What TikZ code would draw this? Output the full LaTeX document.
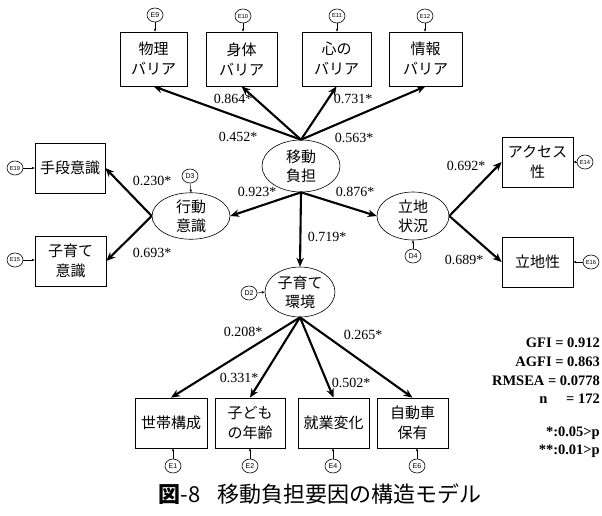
\documentclass[tikz,border=0pt]{standalone}
\usepackage{fontspec}
\setmainfont{Liberation Serif}
\newfontfamily\jp{Noto Sans CJK JP}
\newfontfamily\esf{Liberation Sans}
\usetikzlibrary{arrows.meta,shapes.geometric}
\begin{document}
\begin{tikzpicture}[x=1pt,y=-1pt,
  box/.style={draw,line width=0.7pt,inner sep=0pt,align=center,minimum height=50pt,font=\jp\fontsize{15}{20}\selectfont},
  lat/.style={draw,ellipse,line width=0.6pt,inner sep=0pt,align=center,font=\jp\fontsize{15}{19}\selectfont},
  err/.style={draw,ellipse,line width=0.6pt,inner sep=0pt,minimum width=16pt,minimum height=14pt,font=\esf\fontsize{7}{7}\selectfont},
  errs/.style={err,font=\esf\fontsize{5.8}{6}\selectfont},
  sm/.style={-{Stealth[length=3pt,width=2.5pt]},line width=0.5pt},
  pth/.style={-{Stealth[length=9pt,width=7.5pt]},line width=2.1pt},
  lab/.style={inner sep=0pt,font=\fontsize{14}{15}\selectfont},
  stat/.style={inner sep=0pt,anchor=east,font=\bfseries\fontsize{14.5}{15}\selectfont}]
\useasboundingbox (0,0) rectangle (602,515);
\clip (0,0) rectangle (602,515);
% top boxes
\node[box,minimum width=67pt,minimum height=54pt] (b1) at (153.5,59) {物理\\バリア};
\node[box,minimum width=71pt,minimum height=54pt] (b2) at (241.5,59) {身体\\バリア};
\node[box,minimum width=69pt,minimum height=54pt] (b3) at (336.5,59) {心の\\バリア};
\node[box,minimum width=73pt,minimum height=54pt] (b4) at (425.5,59) {情報\\バリア};
% left boxes
\node[box,minimum width=70pt] (l1) at (70,168) {手段意識};
\node[box,minimum width=71pt] (l2) at (70.5,261) {子育て\\意識};
% right boxes
\node[box,minimum width=71pt] (r1) at (537.5,162) {アクセス\\性};
\node[box,minimum width=71pt] (r2) at (537.5,262) {立地性};
% bottom boxes
\node[box,minimum width=72pt] (d1) at (171,423) {世帯構成};
\node[box,minimum width=70pt] (d2) at (250,423) {子ども\\の年齢};
\node[box,minimum width=71pt] (d3) at (333.5,423) {就業変化};
\node[box,minimum width=71pt] (d4) at (412.5,423) {自動車\\保有};
% latent ellipses
\node[lat,minimum width=78pt,minimum height=52pt] (idou) at (301,166) {移動\\負担};
\node[lat,minimum width=78pt,minimum height=44pt] (koudou) at (191,216) {行動\\意識};
\node[lat,minimum width=72pt,minimum height=48pt] (ritchi) at (413,216) {立地\\状況};
\node[lat,minimum width=70pt,minimum height=50pt] (kankyo) at (300,292) {子育て\\環境};
% error terms
\node[err] (E9) at (155,15) {E9};
\node[errs] (E10) at (243,16) {E10};
\node[errs] (E11) at (337,16) {E11};
\node[errs] (E12) at (425,16) {E12};
\node[errs] (E19) at (15,168) {E19};
\node[errs] (E15) at (15,260) {E15};
\node[errs] (E14) at (585,162) {E14};
\node[errs] (E16) at (591,262) {E16};
\node[err] (D3) at (190,176) {D3};
\node[err] (D4) at (413,256) {D4};
\node[err] (D2) at (249,293) {D2};
\node[err] (E1) at (173,466) {E1};
\node[err] (E2) at (250,466) {E2};
\node[err] (E4) at (333,466) {E4};
\node[err] (E6) at (417,466) {E6};
% small arrows
\foreach \e/\b in {E9/b1,E10/b2,E11/b3,E12/b4}
  \draw[sm] (\e.south) -- (\e.south |- \b.north);
\foreach \e/\b in {E1/d1,E2/d2,E4/d3,E6/d4}
  \draw[sm] (\e.north) -- (\e.north |- \b.south);
\draw[sm] (E19.east) -- (E19.east -| l1.west);
\draw[sm] (E15.east) -- (E15.east -| l2.west);
\draw[sm] (E14.west) -- (E14.west -| r1.east);
\draw[sm] (E16.west) -- (E16.west -| r2.east);
\draw[sm] (D3.south) -- (koudou.north);
\draw[sm] (D4.north) -- (ritchi.south);
\draw[sm] (D2.east) -- (kankyo.west);
% main paths
\foreach \b in {b1,b2,b3,b4}
  \draw[pth] (idou.north) -- (\b.south);
\draw[pth] (idou.south) -- (koudou.east);
\draw[pth] (idou.south) -- (ritchi.west);
\draw[pth] (idou.south) -- (kankyo.north);
\draw[pth] (koudou.west) -- (l1.east);
\draw[pth] (koudou.west) -- (l2.east);
\draw[pth] (ritchi.east) -- (r1.west);
\draw[pth] (ritchi.east) -- (r2.west);
\foreach \b in {d1,d2,d3,d4}
  \draw[pth] (kankyo.south) -- (\b.north);
% labels
\node[lab] (n1) at (233,99) {0.864*};
\node[lab] (n2) at (353,99) {0.731*};
\node[lab] (n3) at (238,137) {0.452*};
\node[lab] (n4) at (354,138) {0.563*};
\node[lab] (n5) at (257,192) {0.923*};
\node[lab] (n6) at (152,181) {0.230*};
\node[lab] (n7) at (152,253) {0.693*};
\node[lab] (n8) at (355,192) {0.876*};
\node[lab] (n9) at (327,237) {0.719*};
\node[lab] (n10) at (466,166) {0.692*};
\node[lab] (n11) at (464,260) {0.689*};
\node[lab] (n12) at (243,332) {0.208*};
\node[lab] (n13) at (239,378) {0.331*};
\node[lab] (n14) at (351,383) {0.502*};
\node[lab] (n15) at (363,335) {0.265*};
% stats
\node[stat] (s1) at (600,343) {GFI = 0.912};
\node[stat] (s2) at (600,362) {AGFI = 0.863};
\node[stat] (s3) at (600,381) {RMSEA = 0.0778};
\node[stat] (s4) at (600,399) {n\hspace{1.3em}= 172};
\node[stat] (s5) at (600,433) {*:0.05>p};
\node[stat] (s6) at (600,451) {**:0.01>p};
% caption
\node[inner sep=0pt,font=\jp\fontsize{22}{24}\selectfont] (cap) at (320,494) {{\bfseries 図}-8\hspace{17pt}移動負担要因の構造モデル};
\end{tikzpicture}
\end{document}
